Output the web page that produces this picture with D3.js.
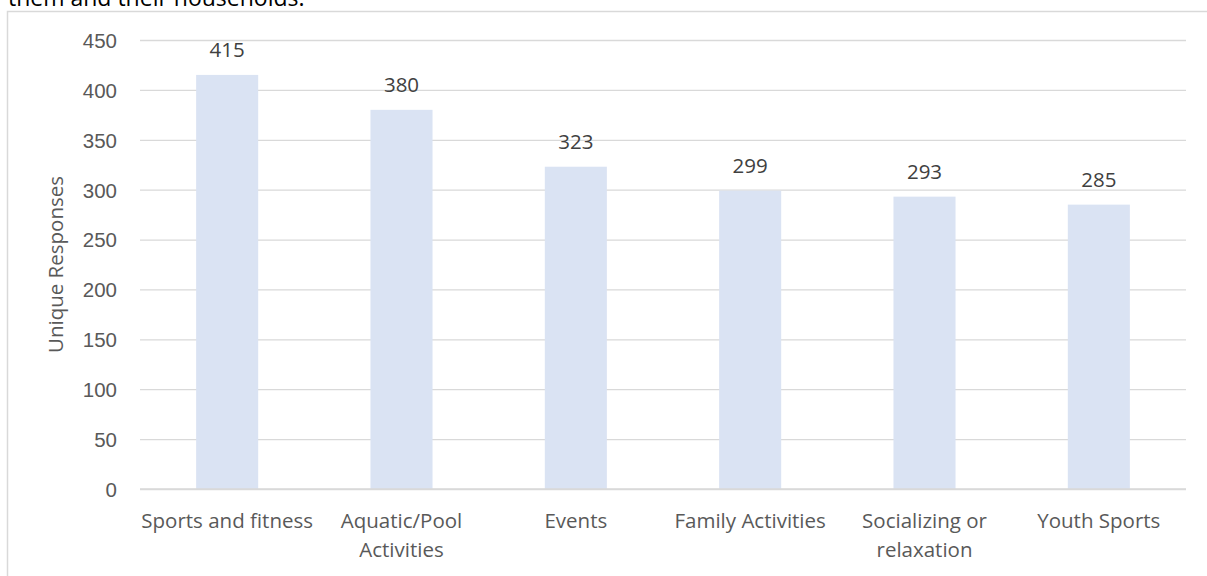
<!DOCTYPE html>
<html>
<head>
<meta charset="utf-8">
<script src="https://cdn.jsdelivr.net/npm/d3@7"></script>
<style>
  html, body { margin: 0; padding: 0; background: #fff; overflow: hidden; }
  svg { display: block; font-family: "Open Sans", sans-serif; }
</style>
</head>
<body>
<div id="chart"></div>
<script>
// data
const categories = ["Sports and fitness", "Aquatic/Pool Activities", "Events", "Family Activities", "Socializing or relaxation", "Youth Sports"];
const responses = [415, 380, 323, 299, 293, 285];
const yTicks = [0, 50, 100, 150, 200, 250, 300, 350, 400, 450];

const width = 1207, height = 576;
const margin = {left: 140, right: 21, top: 40, bottom: 87};

const svg = d3.select("#chart")
  .append("svg")
    .attr("width", width)
    .attr("height", height)

// sentence fragment above the chart box
svg.append("text")
  .attr("x", 8)
  .attr("y", 6)
  .style("font-size", "23px")
  .style("fill", "#000")
  .text("them and their households.")

// chart border
svg.append("rect")
  .attr("x", 7.5)
  .attr("y", 11.5)
  .attr("width", width)
  .attr("height", height)
  .attr("fill", "none")
  .attr("stroke", "#d9d9d9")
  .attr("stroke-width", 1.5)

const x = d3.scaleBand()
  .domain(categories)
  .range([margin.left, width - margin.right])
  .paddingInner(0.644)
  .paddingOuter(0.322)

const y = d3.scaleLinear()
  .domain([0, 450])
  .range([height - margin.bottom, margin.top])

// gridlines + y tick labels
const yAxis = svg.append("g")
  .attr("transform", `translate(${margin.left},0)`)
  .call(d3.axisLeft(y)
    .tickValues(yTicks)
    .tickSize(-(width - margin.left - margin.right))
    .tickPadding(23))

yAxis.select(".domain").remove()
yAxis.selectAll(".tick line")
  .attr("stroke", "#d9d9d9")
  .attr("stroke-width", 1.3)
yAxis.selectAll(".tick text")
  .attr("fill", "#595959")
  .attr("dy", "0.36em")
  .style("font-size", "20.5px")

// bars
svg.append("g")
  .selectAll("rect")
  .data(responses)
  .join("rect")
    .attr("x", (d, i) => x(categories[i]))
    .attr("y", d => y(d))
    .attr("width", x.bandwidth())
    .attr("height", d => y(0) - y(d))
    .attr("fill", "#dae3f3")

// baseline drawn over bars
svg.append("line")
  .attr("x1", margin.left)
  .attr("x2", width - margin.right)
  .attr("y1", y(0))
  .attr("y2", y(0))
  .attr("stroke", "#d9d9d9")
  .attr("stroke-width", 1.5)

// value labels
svg.append("g")
  .selectAll("text")
  .data(responses)
  .join("text")
    .attr("x", (d, i) => x(categories[i]) + x.bandwidth() / 2)
    .attr("y", d => y(d) - 18)
    .attr("text-anchor", "middle")
    .attr("fill", "#404040")
    .style("font-size", "20.5px")
    .text(d => d)

// category labels, wrapped to the band step
const labelG = svg.append("g")
for (const cat of categories) {
  const text = labelG.append("text")
    .attr("x", x(cat) + x.bandwidth() / 2)
    .attr("y", 528)
    .attr("text-anchor", "middle")
    .attr("fill", "#595959")
    .style("font-size", "20.5px")

  const words = cat.split(" ")
  let line = [], lineNo = 0
  let tspan = text.append("tspan").attr("x", x(cat) + x.bandwidth() / 2).attr("dy", 0)
  for (const w of words) {
    line.push(w)
    tspan.text(line.join(" "))
    if (tspan.node().getComputedTextLength() > 180 && line.length > 1) {
      line.pop()
      tspan.text(line.join(" "))
      line = [w]
      lineNo++
      tspan = text.append("tspan")
        .attr("x", x(cat) + x.bandwidth() / 2)
        .attr("dy", 29)
        .text(w)
    }
  }
}

// y axis title
svg.append("text")
  .attr("transform", `translate(63,${(y(0) + y(450)) / 2}) rotate(-90)`)
  .attr("text-anchor", "middle")
  .attr("fill", "#595959")
  .style("font-size", "20.5px")
  .text("Unique Responses")
</script>
</body>
</html>
